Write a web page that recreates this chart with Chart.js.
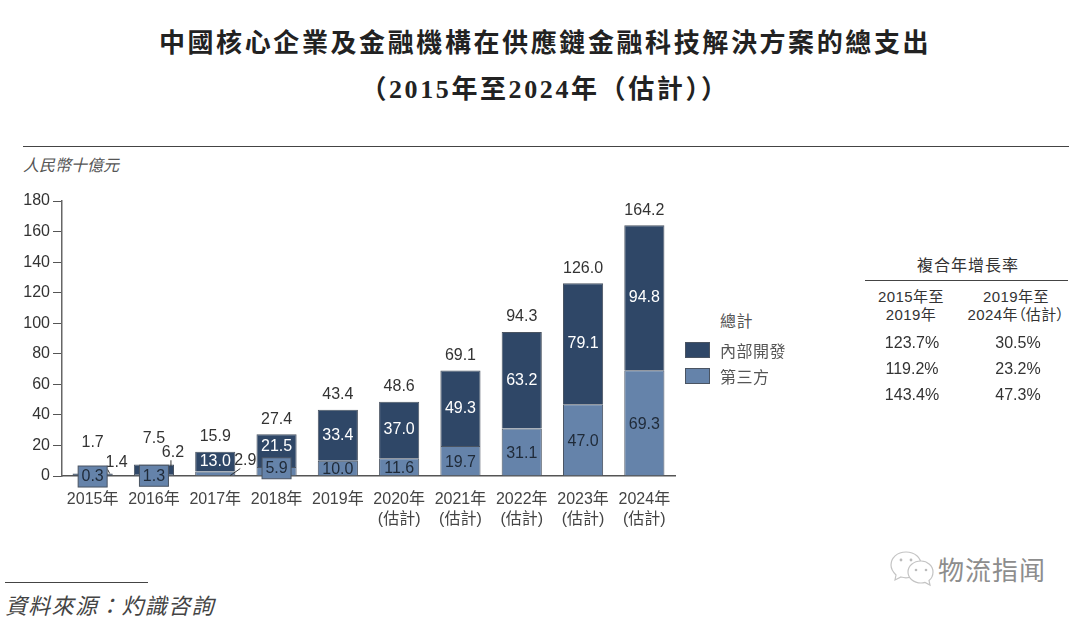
<!DOCTYPE html>
<html lang="zh-Hant">
<head>
<meta charset="utf-8">
<title>中國核心企業及金融機構在供應鏈金融科技解決方案的總支出</title>
<script src="https://cdn.jsdelivr.net/npm/chart.js@4"></script>
<style>
  html, body { margin: 0; padding: 0; background: #fff; }
  body { position: relative; width: 1080px; height: 617px; overflow: hidden; color: #333;
         font-family: "Liberation Sans", "Noto Sans CJK TC", sans-serif; }
  .abs { position: absolute; white-space: nowrap; }
  .title { left: 0; width: 1090px; text-align: center; font-family: "Liberation Serif", "Noto Sans CJK TC", serif;
           font-weight: 700; font-size: 26px; letter-spacing: 2.6px; color: #222; line-height: 34px; }
  .rule { position: absolute; background: #444; height: 1px; }
  .unit { left: 23px; top: 154px; font-family: "Noto Sans CJK TC"; font-style: italic; font-size: 16px; color: #555; line-height: 20px; }
  .source { left: 5px; top: 590px; font-family: "Noto Sans CJK TC"; font-style: italic; font-size: 22px; color: #444; line-height: 28px; letter-spacing: 1.3px; }
  #chartWrap { position: absolute; left: 20px; top: 180.5px; width: 675px; height: 355px; }
  .legend-title { left: 720px; top: 312px; font-size: 16px; line-height: 20px; color: #555; letter-spacing: 0.5px; }
  .legend-item { left: 685px; height: 16px; display: flex; align-items: center; font-size: 16px; color: #555; letter-spacing: 0.5px; }
  .legend-item i { display: block; width: 25px; height: 16px; margin-right: 10px; border: 1px solid #4a5462; box-sizing: border-box; }
  .cagr { text-align: center; font-size: 16px; line-height: 18px; color: #333; transform: translateX(-50%); }
  .cagr-head { font-size: 15px; font-feature-settings: "palt"; letter-spacing: 0.4px; }
  .watermark { left: 938px; top: 551px; font-family: "Noto Sans CJK SC"; font-size: 26px; line-height: 36px; color: #8d8d8d; letter-spacing: 1px; }
</style>
</head>
<body>
  <div class="abs title" style="top:27px">中國核心企業及金融機構在供應鏈金融科技解決方案的總支出</div>
  <div class="abs title" style="top:73px">&#xFF08;2015年至2024年&#xFF08;估計&#xFF09;&#xFF09;</div>
  <div class="rule" style="left:23px; top:145.5px; width:1046px"></div>
  <div class="abs unit">人民幣十億元</div>

  <div id="chartWrap"><canvas id="spendChart"></canvas></div>

  <div class="abs legend-title">總計</div>
  <div id="legend"></div>

  <div id="cagr"></div>

  <div class="rule" style="left:5px; top:582px; width:143px"></div>
  <div class="abs source">資料來源&#xFF1A;灼識咨詢</div>

  <svg class="abs" style="left:888px; top:548px" width="50" height="40" viewBox="0 0 50 40">
    <g fill="#fff" stroke="#c4c4c4" stroke-width="1.2">
      <path d="M18 4c-9 0-15 6-15 13 0 4 2 7 5 10l-1 5 6-3c2 .6 3 .8 5 .8 9 0 15-6 15-13S27 4 18 4z"/>
      <path d="M33 13c-7.500 0-13 5-13 11s5.500 11 13 11c1.600 0 3-.3 4-.6l5 2.600-1-4.500c2.500-2 4-5 4-8.500 0-6-5.500-11-12-11z"/>
    </g>
    <g fill="#bbb"><circle cx="13" cy="12" r="1.4"/><circle cx="23" cy="12" r="1.400"/><circle cx="28" cy="22" r="1.300"/><circle cx="38" cy="22" r="1.300"/></g>
  </svg>
  <div class="abs watermark">物流指闻</div>

<script>
// 데이터
const categories = [['2015年'], ['2016年'], ['2017年'], ['2018年'], ['2019年'],
  ['2020年', '(估計)'], ['2021年', '(估計)'], ['2022年', '(估計)'], ['2023年', '(估計)'], ['2024年', '(估計)']];
const totalValues = [1.7, 7.5, 15.9, 27.4, 43.4, 48.6, 69.1, 94.3, 126.0, 164.2];
const internalValues = [1.4, 6.2, 13.0, 21.5, 33.4, 37.0, 49.3, 63.2, 79.1, 94.8];
const thirdPartyValues = [0.3, 1.3, 2.9, 5.9, 10.0, 11.6, 19.7, 31.1, 47.0, 69.3];
const yTicks = [0, 20, 40, 60, 80, 100, 120, 140, 160, 180];

const cagrHeads = ['2015年至<br>2019年', '2019年至<br>2024年\uFF08估計\uFF09'];
const cagrFirst = ['123.7%', '119.2%', '143.4%'];
const cagrSecond = ['30.5%', '23.2%', '47.3%'];

const DARK = '#2f4767';
const LIGHT = '#6583aa';
const EDGE = '#4a5462';

// 작은 막대는 라벨을 막대 밖으로 뺀다 (원본 배치 그대로)
const totalLift = { 0: 31, 1: 26 };
const internalOut = {
  0: { dx: 24, dy: -12, leader: [[15, -5], [17, -1]] },
  1: { dx: 19, dy: -17, leader: [[17, -9], [17, -3]] },
  3: { dx: 0, dy: -4 },
};
const thirdOut = { 2: { dx: 30, dy: -13, leader: [[25, -5], [15, 2]] } };
const boxed = { 0: true, 1: true, 3: true };

const barLabels = {
  id: 'barLabels',
  afterDatasetsDraw(chart) {
    const { ctx } = chart;
    const inner = chart.getDatasetMeta(0).data;  // third party
    const upper = chart.getDatasetMeta(1).data;  // internal
    ctx.save();
    ctx.textAlign = 'center';
    ctx.textBaseline = 'middle';
    ctx.font = '16px "Liberation Sans"';

    categories.forEach((_, i) => {
      const top = upper[i];
      const low = inner[i];

      // 합계
      ctx.fillStyle = '#333';
      ctx.fillText(totalValues[i].toFixed(1), top.x, top.y - (totalLift[i] ?? 15));

      // 내부 개발
      const midUp = (top.y + top.base) / 2;
      const oUp = internalOut[i];
      if (oUp && oUp.leader) {
        ctx.strokeStyle = '#333';
        ctx.lineWidth = 1;
        ctx.beginPath();
        ctx.moveTo(top.x + oUp.leader[0][0], midUp + oUp.leader[0][1]);
        ctx.lineTo(top.x + oUp.leader[1][0], midUp + oUp.leader[1][1]);
        ctx.stroke();
        ctx.fillStyle = '#333';
      } else {
        ctx.fillStyle = '#fff';
      }
      ctx.fillText(internalValues[i].toFixed(1), top.x + (oUp ? oUp.dx : 0), midUp + (oUp ? oUp.dy : 0));

      // 제3자
      const midLow = (low.y + low.base) / 2;
      const oLow = thirdOut[i];
      if (oLow) {
        ctx.strokeStyle = '#333';
        ctx.beginPath();
        ctx.moveTo(low.x + oLow.leader[0][0], midLow + oLow.leader[0][1]);
        ctx.lineTo(low.x + oLow.leader[1][0], midLow + oLow.leader[1][1]);
        ctx.stroke();
        ctx.fillStyle = '#333';
        ctx.fillText(thirdPartyValues[i].toFixed(1), low.x + oLow.dx, midLow + oLow.dy);
        return;
      }
      const boxY = i === 3 ? midLow - 3 : midLow + 1;
      if (boxed[i]) {
        ctx.fillStyle = LIGHT;
        ctx.strokeStyle = EDGE;
        ctx.lineWidth = 1;
        ctx.fillRect(low.x - 14.5, boxY - 10.5, 29, 21);
        ctx.strokeRect(low.x - 14.5, boxY - 10.5, 29, 21);
      }
      ctx.fillStyle = '#1f2a38';
      ctx.fillText(thirdPartyValues[i].toFixed(1), low.x, boxY + 0.5);
    });
    ctx.restore();
  },
};

const spendChart = new Chart(document.getElementById('spendChart'), {
  type: 'bar',
  data: {
    labels: categories,
    datasets: [
      { label: '第三方', data: thirdPartyValues, backgroundColor: LIGHT, borderColor: EDGE, borderWidth: 1, barPercentage: 0.655, categoryPercentage: 1 },
      { label: '內部開發', data: internalValues, backgroundColor: DARK, borderColor: EDGE, borderWidth: 1, barPercentage: 0.655, categoryPercentage: 1 },
    ],
  },
  options: {
    responsive: true,
    maintainAspectRatio: false,
    animation: false,
    layout: { padding: { top: 20, right: 20, left: 0, bottom: 0 } },
    plugins: { legend: { display: false }, tooltip: { enabled: false } },
    scales: {
      x: {
        stacked: true,
        grid: { display: false },
        border: { color: '#555', width: 1.5 },
        ticks: { color: '#444', font: { family: '"Liberation Sans", "Noto Sans CJK TC"', size: 16, lineHeight: 1.25 }, padding: 6, maxRotation: 0, autoSkip: false },
        afterFit: (scale) => { scale.height = 60; },
      },
      y: {
        stacked: true,
        min: 0,
        max: 180,
        afterBuildTicks: (scale) => { scale.ticks = yTicks.map((value) => ({ value })); },
        grid: { drawOnChartArea: false, drawTicks: true, tickLength: 9, color: '#555' },
        border: { color: '#666', width: 1.5 },
        ticks: { color: '#333', font: { family: '"Liberation Sans"', size: 16 }, padding: 3 },
        afterFit: (scale) => { scale.width = 42; },
      },
    },
  },
  plugins: [barLabels],
});

// 범례
const legendEl = document.getElementById('legend');
[spendChart.data.datasets[1], spendChart.data.datasets[0]].forEach((ds, i) => {
  const row = document.createElement('div');
  row.className = 'abs legend-item';
  row.style.top = (i === 0 ? 342 : 368) + 'px';
  row.innerHTML = `<i style="background:${ds.backgroundColor}"></i>${ds.label}`;
  legendEl.appendChild(row);
});

// 복합 성장률 표
const cagrEl = document.getElementById('cagr');
const addCagr = (html, x, y, cls) => {
  const el = document.createElement('div');
  el.className = 'abs cagr' + (cls ? ' ' + cls : '');
  el.style.left = x + 'px';
  el.style.top = y + 'px';
  el.innerHTML = html;
  cagrEl.appendChild(el);
};
addCagr('<span style="letter-spacing:1px">複合年增長率</span>', 968, 257);
const ruleEl = document.createElement('div');
ruleEl.className = 'rule';
ruleEl.style.cssText = 'left:865px; top:280px; width:203px';
cagrEl.appendChild(ruleEl);
addCagr(cagrHeads[0], 911, 288, 'cagr-head');
addCagr(cagrHeads[1], 1016, 288, 'cagr-head');
[334, 360, 386].forEach((y, i) => {
  addCagr(cagrFirst[i], 912, y);
  addCagr(cagrSecond[i], 1018, y);
});
</script>
</body>
</html>
